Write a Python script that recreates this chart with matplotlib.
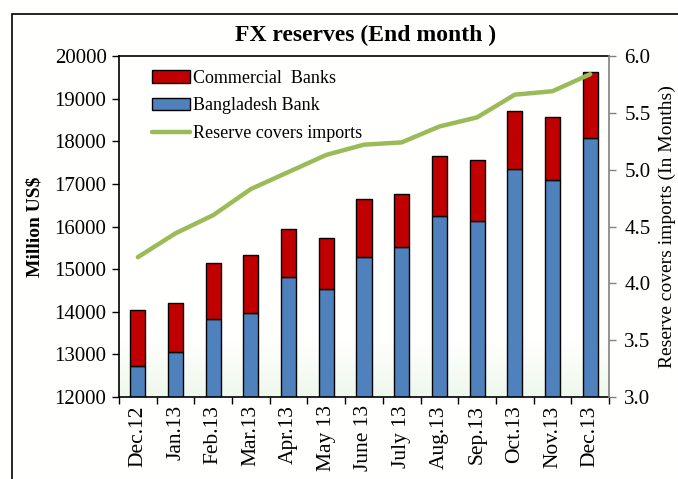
import matplotlib
matplotlib.use("Agg")
import matplotlib.pyplot as plt
import numpy as np
from matplotlib.patches import Rectangle, Patch
from matplotlib.lines import Line2D
from matplotlib.colors import LinearSegmentedColormap

months = ["Dec.12", "Jan.13", "Feb.13", "Mar.13", "Apr.13", "May 13", "June 13",
          "July 13", "Aug.13", "Sep.13", "Oct.13", "Nov.13", "Dec.13"]
bangladesh_bank = [12730, 13060, 13830, 13970, 14820, 14530, 15290,
                   15515, 16245, 16130, 17355, 17090, 18080]
total_reserves = [14050, 14200, 15155, 15335, 15950, 15735, 16650,
                  16760, 17645, 17570, 18710, 18565, 19625]
commercial_banks = [t - b for t, b in zip(total_reserves, bangladesh_bank)]
import_cover = [4.23, 4.44, 4.60, 4.83, 4.98, 5.13, 5.22,
                5.24, 5.38, 5.46, 5.66, 5.69, 5.84]

RED = "#C00000"
BLUE = "#4F81BD"
GREEN = "#9BBB59"
FONT = "Liberation Serif"

plt.rcParams["font.family"] = FONT

fig = plt.figure(figsize=(6.78, 4.79), dpi=100)
fig.patch.set_facecolor("#FFFFFD")

# outer frame
fig.patches.append(Rectangle((12 / 678, -0.1), 1.2, (479 - 14) / 479 + 0.1,
                             transform=fig.transFigure, fill=False,
                             edgecolor="black", linewidth=1.2))

ax = fig.add_axes([119 / 678, (479 - 397) / 479, (609 - 119) / 678, (397 - 56) / 479])
ax.set_facecolor("#FFFFFD")

x = np.arange(len(months))
w = 0.4

# subtle green gradient at bottom of plot area
grad = np.linspace(0, 1, 256).reshape(-1, 1)
cmap = LinearSegmentedColormap.from_list("g", ["#EEF8EC", "#FFFFFD"])
ax.imshow(grad, extent=[-0.5, len(months) - 0.5, 12000, 13300],
          aspect="auto", cmap=cmap, zorder=0, origin="lower")

ax.bar(x, bangladesh_bank, width=w, color=BLUE, edgecolor="black", linewidth=1.0, zorder=2)
ax.bar(x, commercial_banks, width=w, bottom=bangladesh_bank, color=RED,
       edgecolor="black", linewidth=1.0, zorder=2)

ax.set_xlim(-0.5, len(months) - 0.5)
ax.set_ylim(12000, 20000)
ax.set_yticks(range(12000, 20001, 1000))
ax.tick_params(axis="y", direction="out", length=5, width=1, labelsize=15, pad=4)
ax.set_xticks(x)
ax.set_xticklabels(months, rotation=90, fontsize=15.5)
ax.tick_params(axis="x", length=0, pad=6)
ax.set_xticks(np.arange(-0.5, len(months), 1), minor=True)
ax.tick_params(axis="x", which="minor", direction="out", length=5, width=1)
ax.set_ylabel("Million US$", fontsize=14, fontweight="bold", labelpad=8)
for s in ["left", "bottom", "top"]:
    ax.spines[s].set_color("black")
    ax.spines[s].set_linewidth(1.2)
ax.spines["right"].set_visible(False)

ax2 = ax.twinx()
ax2.plot(x, import_cover, color=GREEN, linewidth=3.2, solid_capstyle="round", zorder=3)
ax2.set_ylim(3.0, 6.0)
ax2.set_yticks(np.arange(3.0, 6.01, 0.5))
ax2.set_yticklabels([f"{v:.1f}" for v in np.arange(3.0, 6.01, 0.5)])
ax2.tick_params(axis="y", direction="out", length=5, width=1, color="#808080",
                labelsize=15, pad=6)
ax2.spines["right"].set_color("#808080")
ax2.spines["right"].set_linewidth(1.2)
for s in ["left", "bottom", "top"]:
    ax2.spines[s].set_visible(False)
ax2.set_ylabel("Reserve covers imports (In Months)", fontsize=14, labelpad=6)

handles = [Patch(facecolor=RED, edgecolor="black", linewidth=1.0),
           Patch(facecolor=BLUE, edgecolor="black", linewidth=1.0),
           Line2D([0], [0], color=GREEN, linewidth=3.2, solid_capstyle="round")]
labels = ["Commercial  Banks", "Bangladesh Bank", "Reserve covers imports"]
ax2.legend(handles, labels, loc="upper left", bbox_to_anchor=(0.04, 1.0),
           frameon=False, fontsize=13, handlelength=2.1, handleheight=0.7,
           handletextpad=0.15, labelspacing=0.6, borderaxespad=0.35)

fig.text((119 + 609) / 2 / 678 + 0.003, 1 - 35 / 479, "FX reserves (End month )",
         ha="center", va="center", fontsize=17, fontweight="bold")

fig.savefig("out.png", dpi=100, facecolor=fig.get_facecolor())
